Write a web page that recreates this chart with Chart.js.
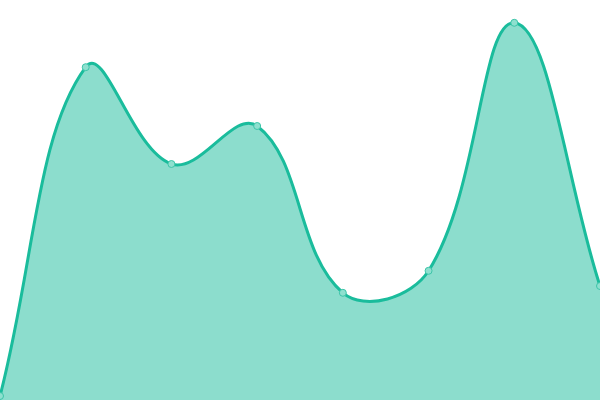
<!DOCTYPE html>
<html>
<head>
<meta charset="utf-8">
<script src="https://cdn.jsdelivr.net/npm/chart.js@4"></script>
<style>
  html, body { margin: 0; padding: 0; background: #fff; }
  #wrap { width: 600px; height: 400px; }
</style>
</head>
<body>
<div id="wrap"><canvas id="chart" width="600" height="400"></canvas></div>
<script>
// values (y scale 0..100)
const categories = ['1', '2', '3', '4', '5', '6', '7', '8'];
const values = [1, 83.2, 59, 68.5, 26.8, 32.3, 94.3, 28.5];

new Chart(document.getElementById('chart'), {
    type: 'line',
    data: {
        labels: categories,
        datasets: [{
            data: values,
            fill: true,
            tension: 0.4,
            borderColor: '#1abc9c',
            borderWidth: 3,
            backgroundColor: 'rgba(26, 188, 156, 0.5)',
            pointRadius: 3.5,
            pointBorderWidth: 1,
            pointBorderColor: '#3cc4a8',
            pointBackgroundColor: '#8ee0cf'
        }]
    },
    options: {
        responsive: false,
        animation: false,
        layout: { padding: 0, autoPadding: false },
        plugins: { legend: { display: false }, tooltip: { enabled: false } },
        scales: {
            x: { display: false, offset: false },
            y: { display: false, min: 0, max: 100 }
        }
    }
});
</script>
</body>
</html>
